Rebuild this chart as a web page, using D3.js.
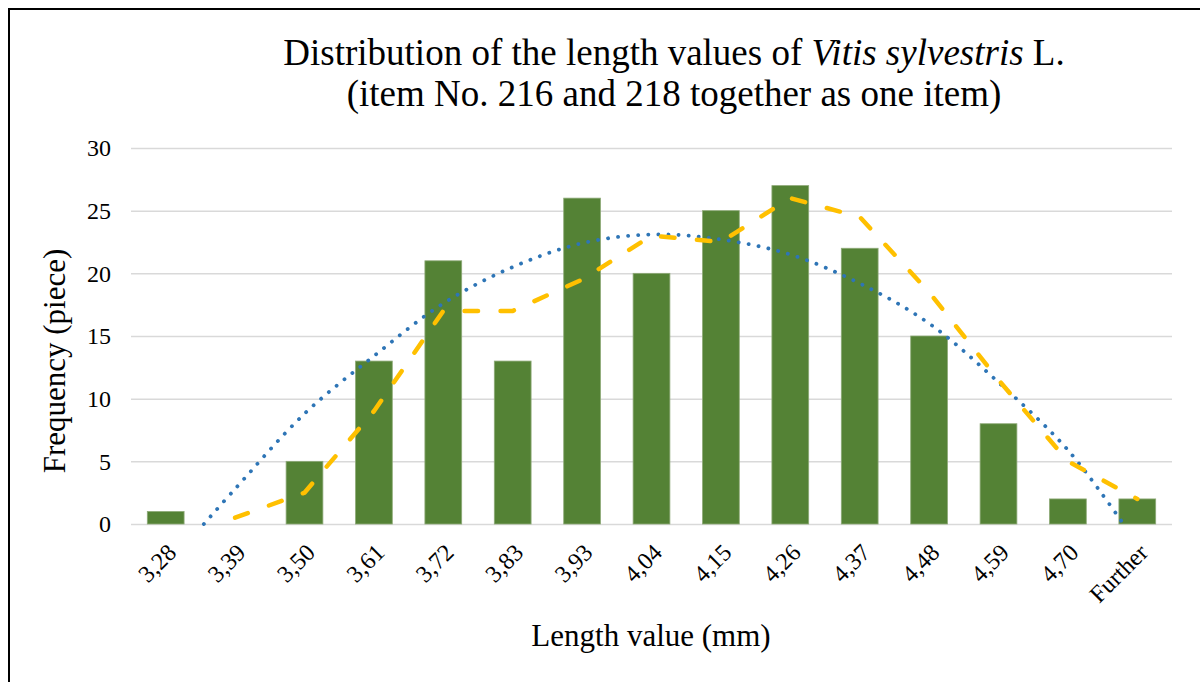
<!DOCTYPE html>
<html>
<head>
<meta charset="utf-8">
<script src="https://cdn.jsdelivr.net/npm/d3@7/dist/d3.min.js"></script>
<style>
    body { margin: 0; background: #fff; }
    svg { display: block; font-family: "Liberation Serif", "Times New Roman", serif; }
</style>
</head>
<body>
<svg id="chart" width="1200" height="682"></svg>
<script>

// ##################################################
// #                                                #
// #  Data                                          #
// #                                                #
// ##################################################

const categories = ['3,28', '3,39', '3,50', '3,61', '3,72', '3,83', '3,93', '4,04',
    '4,15', '4,26', '4,37', '4,48', '4,59', '4,70', 'Further'];
const frequency = [1, 0, 5, 13, 21, 13, 26, 20, 25, 27, 22, 15, 8, 2, 2];

// moving average (2 periods), starts at 2nd category
const movingAvgIndex = [1, 2, 3, 4, 5, 6, 7, 8, 9, 10, 11, 12, 13, 14];
const movingAvg = [0.5, 2.5, 9, 17, 17, 19.5, 23, 22.5, 26, 24.5, 18.5, 11.5, 5, 2];

// polynomial trend (index position -> value)
const trendIndex = [0.55, 1, 2, 3, 4, 5, 6, 7, 8, 9, 10, 11, 12, 13, 13.8];
const trendValue = [0, 2.8, 8.8, 13.4, 17.6, 20.5, 22.4, 23.1, 22.7, 21.5, 19.2, 16.0, 11.3, 5.9, 0];

const yTicks = [0, 5, 10, 15, 20, 25, 30];

// ##################################################
// #                                                #
// #  Layout                                        #
// #                                                #
// ##################################################

let _left = 131;
let _right = 1172;
let _top = 148;
let _bottom = 524;

let svg = d3.select('#chart');

svg.append('rect')
    .attr('x', 9)
    .attr('y', 9)
    .attr('width', 1300)
    .attr('height', 1000)
    .attr('fill', 'none')
    .attr('stroke', '#000')
    .attr('stroke-width', 2);

let x = d3.scaleBand()
    .domain(categories)
    .range([_left, _right])
    .paddingInner(0.47)
    .paddingOuter(0.235);

let y = d3.scaleLinear()
    .domain([0, 30])
    .range([_bottom, _top]);

// index position -> pixel, centres of the bands
let xi = d3.scaleLinear()
    .domain([0, categories.length - 1])
    .range([x(categories[0]) + x.bandwidth() / 2,
        x(categories[categories.length - 1]) + x.bandwidth() / 2]);

// ##################################################
// #                                                #
// #  Grid and axes                                 #
// #                                                #
// ##################################################

let yAxis = svg.append('g')
    .attr('class', 'y-axis')
    .attr('transform', `translate(${_left},0)`)
    .call(d3.axisLeft(y)
        .tickValues(yTicks)
        .tickSize(-(_right - _left))
        .tickPadding(20)
        .tickFormat(d3.format('d')));

yAxis.select('.domain').remove();
yAxis.selectAll('line')
    .attr('stroke', '#d9d9d9')
    .attr('stroke-width', 1.5);
yAxis.selectAll('text')
    .attr('font-size', 24)
    .attr('font-family', '"Liberation Serif", serif')
    .attr('fill', '#000');

let xAxis = svg.append('g')
    .attr('class', 'x-axis')
    .attr('transform', `translate(0,${_bottom})`)
    .call(d3.axisBottom(x).tickSize(0).tickPadding(0));

xAxis.select('.domain').remove();
xAxis.selectAll('text')
    .attr('font-size', 24)
    .attr('font-family', '"Liberation Serif", serif')
    .attr('fill', '#000')
    .attr('text-anchor', 'end')
    .attr('dy', 0)
    .attr('y', 0)
    .attr('transform', 'translate(12,30) rotate(-45)');

// ##################################################
// #                                                #
// #  Bars                                          #
// #                                                #
// ##################################################

svg.append('g')
    .attr('class', 'bars')
    .selectAll('rect')
    .data(frequency)
    .join('rect')
    .attr('x', (d, i) => x(categories[i]))
    .attr('y', d => y(d))
    .attr('width', x.bandwidth())
    .attr('height', d => y(0) - y(d))
    .attr('fill', '#548235')
    .attr('stroke', '#8eaa78')
    .attr('stroke-width', 0.8);

// ##################################################
// #                                                #
// #  Trend lines                                   #
// #                                                #
// ##################################################

let trendLine = d3.line()
    .x(d => xi(d[0]))
    .y(d => y(d[1]))
    .curve(d3.curveCatmullRom);

svg.append('path')
    .datum(d3.zip(trendIndex, trendValue))
    .attr('d', trendLine)
    .attr('fill', 'none')
    .attr('stroke', '#2e75b6')
    .attr('stroke-width', 3.8)
    .attr('stroke-linecap', 'round')
    .attr('stroke-dasharray', '0.1,10');

let avgLine = d3.line()
    .x(d => xi(d[0]))
    .y(d => y(d[1]));

svg.append('path')
    .datum(d3.zip(movingAvgIndex, movingAvg))
    .attr('d', avgLine)
    .attr('fill', 'none')
    .attr('stroke', '#ffc000')
    .attr('stroke-width', 4.5)
    .attr('stroke-linecap', 'round')
    .attr('stroke-linejoin', 'round')
    .attr('stroke-dasharray', '13.5,22.5');

// ##################################################
// #                                                #
// #  Titles                                        #
// #                                                #
// ##################################################

let title = svg.append('text')
    .attr('text-anchor', 'middle')
    .attr('font-size', 37)
    .attr('fill', '#000');

let line1 = title.append('tspan')
    .attr('x', 674)
    .attr('y', 65);
line1.append('tspan').text('Distribution of the length values of ');
line1.append('tspan').attr('font-style', 'italic').text('Vitis sylvestris');
line1.append('tspan').text(' L.');

title.append('tspan')
    .attr('x', 674)
    .attr('y', 106)
    .text('(item No. 216 and 218 together as one item)');

svg.append('text')
    .attr('x', 651)
    .attr('y', 646)
    .attr('text-anchor', 'middle')
    .attr('font-size', 31)
    .text('Length value (mm)');

svg.append('text')
    .attr('transform', 'translate(65,361) rotate(-90)')
    .attr('text-anchor', 'middle')
    .attr('font-size', 31)
    .text('Frequency (piece)');

</script>
</body>
</html>
